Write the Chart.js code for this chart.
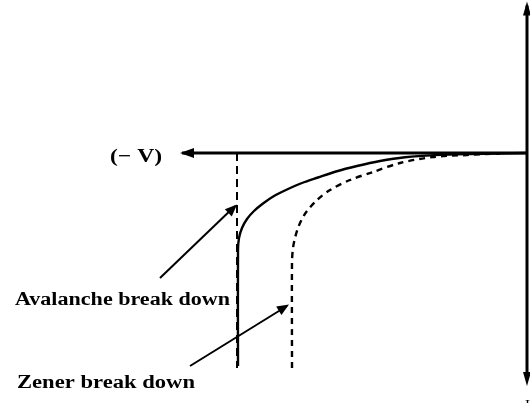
<!DOCTYPE html>
<html>
<head>
<meta charset="utf-8">
<script src="https://cdn.jsdelivr.net/npm/chart.js@4"></script>
<style>
  html, body { margin: 0; padding: 0; background: #fff; }
  #wrap { width: 530px; height: 403px; }
</style>
</head>
<body>
<div id="wrap"><canvas id="grafico" width="530" height="403"></canvas></div>
<script>
// curva de ruptura por avalancha (linea continua)
const avalancheV = [-5.78, -5.78, -5.76, -5.7, -5.6, -5.46, -5.28, -5.06, -4.8, -4.5, -4.18, -3.82, -3.4, -2.94, -2.44, -1.84, -1.14, 0];
const avalancheI = [-4.26, -1.94, -1.7, -1.5, -1.32, -1.16, -1.01, -0.86, -0.73, -0.6, -0.49, -0.37, -0.26, -0.16, -0.085, -0.042, -0.021, 0];

// curva de ruptura zener (linea discontinua)
const zenerV = [-4.7, -4.7, -4.68, -4.64, -4.58, -4.5, -4.4, -4.2, -3.94, -3.54, -3.08, -2.54, -1.88, -1.2, -0.54];
const zenerI = [-4.3, -2.18, -1.9, -1.7, -1.5, -1.32, -1.16, -0.94, -0.74, -0.54, -0.38, -0.2, -0.08, -0.04, -0.01];

// linea vertical discontinua de la tension de ruptura
const rupturaV = [-5.8, -5.8];
const rupturaI = [0, -4.3];

// ejes
const ejeV = [-6.9, 0];
const ejeI = [2.95, -4.5];

// textos y flechas de anotacion: [desdeV, desdeI, hastaV, hastaI]
const etiquetas = ['(\u2212 V)', 'Avalanche break down', 'Zener break down', 'I'];
const flechaAvalancha = [-7.34, -2.5, -5.84, -1.06];
const flechaZener = [-6.74, -4.26, -4.8, -3.06];

function puntos(xs, ys) {
    return xs.map((x, i) => ({ x: x, y: ys[i] }));
}

function flecha(ctx, x1, y1, x2, y2, largo, ancho) {
    const ang = Math.atan2(y2 - y1, x2 - x1);
    ctx.beginPath();
    ctx.moveTo(x2, y2);
    ctx.lineTo(x2 - largo * Math.cos(ang) + ancho * Math.sin(ang), y2 - largo * Math.sin(ang) - ancho * Math.cos(ang));
    ctx.lineTo(x2 - largo * Math.cos(ang) - ancho * Math.sin(ang), y2 - largo * Math.sin(ang) + ancho * Math.cos(ang));
    ctx.closePath();
    ctx.fill();
}

const fuente = '"Liberation Serif", "Times New Roman", Times, serif';

function texto(ctx, t, x, y, ancho, size) {
    ctx.save();
    ctx.font = 'bold ' + size + 'px ' + fuente;
    const w = ctx.measureText(t).width;
    ctx.translate(x, y);
    ctx.scale(ancho / w, 1);
    ctx.fillText(t, 0, 0);
    ctx.restore();
}

const anotaciones = {
    id: 'anotaciones',
    afterDatasetsDraw(chart) {
        const ctx = chart.ctx;
        const sx = chart.scales.x, sy = chart.scales.y;
        const px = v => sx.getPixelForValue(v);
        const py = v => sy.getPixelForValue(v);
        ctx.save();
        ctx.fillStyle = '#000';
        ctx.strokeStyle = '#000';

        // puntas de los ejes
        flecha(ctx, px(ejeV[1]), py(0), px(ejeV[0]) - 2, py(0), 14, 5);
        flecha(ctx, px(0), py(0), px(0), py(ejeI[0]) - 4, 14, 4);
        flecha(ctx, px(0), py(0), px(0), py(ejeI[1]) + 8, 14, 4);

        // flechas de anotacion
        ctx.lineWidth = 2;
        [flechaAvalancha, flechaZener].forEach(f => {
            ctx.beginPath();
            ctx.moveTo(px(f[0]), py(f[1]));
            ctx.lineTo(px(f[2]), py(f[3]));
            ctx.stroke();
            flecha(ctx, px(f[0]), py(f[1]), px(f[2]) + 2, py(f[3]) - 1.5, 12, 5);
        });

        // textos
        ctx.textBaseline = 'alphabetic';
        texto(ctx, etiquetas[0], 110, 162, 52, 19);
        texto(ctx, etiquetas[1], 15, 305, 215, 18);
        texto(ctx, etiquetas[2], 17, 388, 178, 18);
        ctx.font = '15px ' + fuente;
        ctx.fillText(etiquetas[3], px(0) - 2, 410);
        ctx.restore();
    }
};

const comun = { pointRadius: 0, borderColor: '#000', fill: false };

new Chart(document.getElementById('grafico').getContext('2d'), {
    type: 'scatter',
    data: {
        datasets: [
            Object.assign({ label: 'Avalanche', data: puntos(avalancheV, avalancheI), showLine: true, borderWidth: 2.4, tension: 0.3 }, comun),
            Object.assign({ label: 'Zener', data: puntos(zenerV, zenerI), showLine: true, borderWidth: 2.4, borderDash: [6, 5], tension: 0.3 }, comun),
            Object.assign({ label: 'Ruptura', data: puntos(rupturaV, rupturaI), showLine: true, borderWidth: 2, borderDash: [8, 5] }, comun),
            Object.assign({ label: 'EjeV', data: puntos(ejeV, [0, 0]), showLine: true, borderWidth: 3 }, comun),
            Object.assign({ label: 'EjeI', data: puntos([0, 0], ejeI), showLine: true, borderWidth: 3 }, comun)
        ]
    },
    options: {
        responsive: false,
        animation: false,
        layout: { padding: 0 },
        plugins: {
            legend: { display: false },
            tooltip: { enabled: false }
        },
        scales: {
            x: { type: 'linear', display: false, min: -10.54, max: 0.06 },
            y: { type: 'linear', display: false, min: -5.0, max: 3.06 }
        }
    },
    plugins: [anotaciones]
});
</script>
</body>
</html>
